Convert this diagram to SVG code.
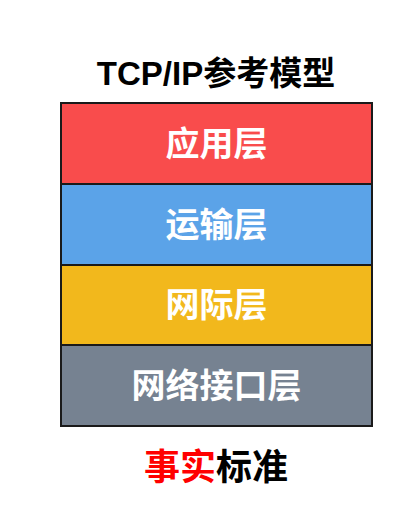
<svg xmlns="http://www.w3.org/2000/svg" width="419" height="507" viewBox="0 0 419 507">
<style>
.t{font-family:"Liberation Sans","Noto Sans CJK SC",sans-serif;font-weight:bold;text-anchor:middle}
.l{fill:#fff;font-size:34px}
.b{stroke:#1a1a1a;stroke-width:2}
</style>
<rect width="419" height="507" fill="#fff"/>
<text id="title" class="t" x="216" y="85" font-size="33" fill="#000">TCP/IP参考模型</text>
<g id="app"><rect class="b" x="61" y="103" width="311" height="81" fill="#F94C4C"/><text class="t l" x="216.5" y="156">应用层</text></g>
<g id="transport"><rect class="b" x="61" y="184" width="311" height="81" fill="#5BA3E8"/><text class="t l" x="216.5" y="237">运输层</text></g>
<g id="internet"><rect class="b" x="61" y="265" width="311" height="80" fill="#F2B81C"/><text class="t l" x="216.5" y="317">网际层</text></g>
<g id="netif"><rect class="b" x="61" y="345" width="311" height="81" fill="#768291"/><text class="t l" x="216.5" y="398">网络接口层</text></g>
<g id="connectors"></g>
<text id="footer" class="t" x="216" y="480" font-size="36"><tspan fill="#F00">事实</tspan><tspan fill="#000">标准</tspan></text>
</svg>
